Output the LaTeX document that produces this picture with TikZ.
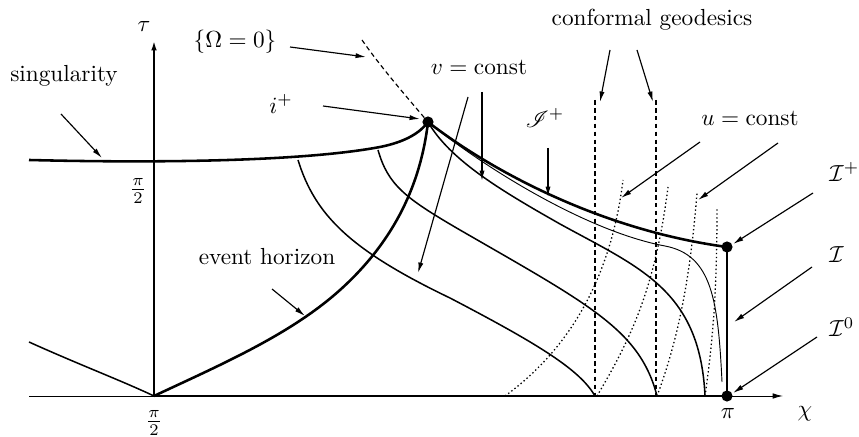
\documentclass[tikz,border=0pt]{standalone}
\usepackage{amsmath}
\usepackage{mathrsfs}
\usetikzlibrary{arrows.meta}
\begin{document}
\begin{tikzpicture}[x=0.43pt,y=-0.43pt,
  thickc/.style={line width=1.1pt},
  normc/.style={line width=0.65pt},
  thinc/.style={line width=0.4pt},
  geo/.style={line width=0.5pt,dash pattern=on 2pt off 1.4pt},
  ucurve/.style={line width=0.55pt,dash pattern=on 0.6pt off 1.1pt},
  pointer/.style={line width=0.5pt,-{Latex[length=4.5pt,width=2.2pt]}},
  axisarrow/.style={-{Latex[length=4.5pt,width=2.4pt]}},
  lab/.style={inner sep=0pt},
  bigdot/.style={circle,fill,inner sep=0pt,minimum size=4.8pt}]
\useasboundingbox (0,0) rectangle (859,437);

% key points
\coordinate (O) at (154,396);
\coordinate (Tt) at (154,40);
\coordinate (L) at (29,396);
\coordinate (Xe) at (783,396);
\coordinate (ip) at (428,122);
\coordinate (ipl) at (727,247);
\coordinate (izero) at (727,396);

% axes
\draw[thinc] (L) -- (O);
\draw[thickc] (O) -- (izero);
\draw[thinc,axisarrow] (izero) -- (Xe);
\draw[thickc,axisarrow] (O) -- (Tt);

% conformal geodesics (dashed verticals)
\coordinate (g1t) at (595,100);
\coordinate (g1b) at (595,396);
\coordinate (g2t) at (656,100);
\coordinate (g2b) at (656,396);
\draw[geo] (g1t) -- (g1b);
\draw[geo] (g2t) -- (g2b);

% u = const dotted curves
\draw[ucurve] (505,396) .. controls (575,345) and (612,270) .. (623,180);
\draw[ucurve] (597,396) .. controls (630,340) and (655,290) .. (668,187);
\draw[ucurve] (657,396) .. controls (678,340) and (690,280) .. (697,193);
\draw[ucurve] (705,396) .. controls (713,340) and (717,290) .. (717,207);

% Omega = 0 dashed
\draw[geo] (362,40) .. controls (380,66) and (405,95) .. (ip);

% singularity
\draw[thickc] (29,160) .. controls (150,163) and (300,162) .. (380,147)
  .. controls (405,142) and (420,133) .. (ip);
% left curve
\draw[normc] (29,342) .. controls (80,365) and (120,380) .. (O);
% event horizon
\draw[thickc] (O) .. controls (220,365) and (290,335) .. (340,290)
  .. controls (390,245) and (420,190) .. (ip);

% v = const curves
\draw[normc] (298,160) .. controls (315,215) and (350,250) .. (450,298)
  .. controls (540,345) and (580,370) .. (595,396);
\draw[normc] (378,150) .. controls (388,185) and (405,198) .. (460,230)
  .. controls (590,305) and (640,330) .. (657,396);
\draw[normc] (ip) .. controls (450,160) and (500,190) .. (560,224)
  .. controls (640,268) and (700,290) .. (705,396);
\draw[thinc] (ip) .. controls (490,172) and (590,232) .. (665,246)
  .. controls (712,255) and (718,300) .. (722,382);

% scri+ and I
\draw[thickc] (ip) .. controls (490,170) and (600,230) .. (ipl);
\draw[thickc] (ipl) -- (izero);

% dots
\node[bigdot] (ipdot) at (ip) {};
\node[bigdot] (ipldot) at (ipl) {};
\node[bigdot] (izdot) at (izero) {};

% labels
\node[lab] (tau) at (144,27) {$\tau$};
\node[lab] (chi) at (805,414) {$\chi$};
\node[lab] (pib) at (154,423) {$\frac{\pi}{2}$};
\node[lab] (pil) at (138,191) {$\frac{\pi}{2}$};
\node[lab] (pi) at (728,413) {$\pi$};
\node[lab] (sing) at (64,76) {singularity};
\node[lab] (om) at (235,42) {$\{\Omega=0\}$};
\node[lab] (iplab) at (281,104) {$i^+$};
\node[lab] (vlab) at (479,67) {$v=\mathrm{const}$};
\node[lab] (scri) at (545,118) {$\mathscr{I}^+$};
\node[lab] (cg) at (652,20) {conformal geodesics};
\node[lab] (ulab) at (750,118) {$u=\mathrm{const}$};
\node[lab,anchor=west] (Ia) at (829,172) {$\mathcal{I}^+$};
\node[lab,anchor=west] (Ib) at (829,255) {$\mathcal{I}$};
\node[lab,anchor=west] (Ic) at (829,327) {$\mathcal{I}^0$};
\node[lab] (eh) at (267,257) {event horizon};

% pointer arrows
\coordinate (a1s) at (61,114);   \coordinate (a1e) at (102,158);
\coordinate (a2s) at (290,47);   \coordinate (a2e) at (366,57);
\coordinate (a3s) at (323,106);  \coordinate (a3e) at (420,119);
\coordinate (a4s) at (468,97);   \coordinate (a4e) at (418,273);
\coordinate (a5s) at (482,92);   \coordinate (a5e) at (482,181);
\coordinate (a6s) at (548,148);  \coordinate (a6e) at (548,197);
\coordinate (a7s) at (610,50);   \coordinate (a7e) at (600,102);
\coordinate (a8s) at (637,50);   \coordinate (a8e) at (653,102);
\coordinate (a9s) at (700,142);  \coordinate (a9e) at (621,198);
\coordinate (a10s) at (778,143); \coordinate (a10e) at (698,200);
\coordinate (a11s) at (813,193); \coordinate (a11e) at (733,244);
\coordinate (a12s) at (812,267); \coordinate (a12e) at (734,322);
\coordinate (a13s) at (817,337); \coordinate (a13e) at (733,393);
\coordinate (a14s) at (272,289); \coordinate (a14e) at (305,316);
\foreach \i in {1,...,14} {\draw[pointer] (a\i s) -- (a\i e);}
\end{tikzpicture}
\end{document}
